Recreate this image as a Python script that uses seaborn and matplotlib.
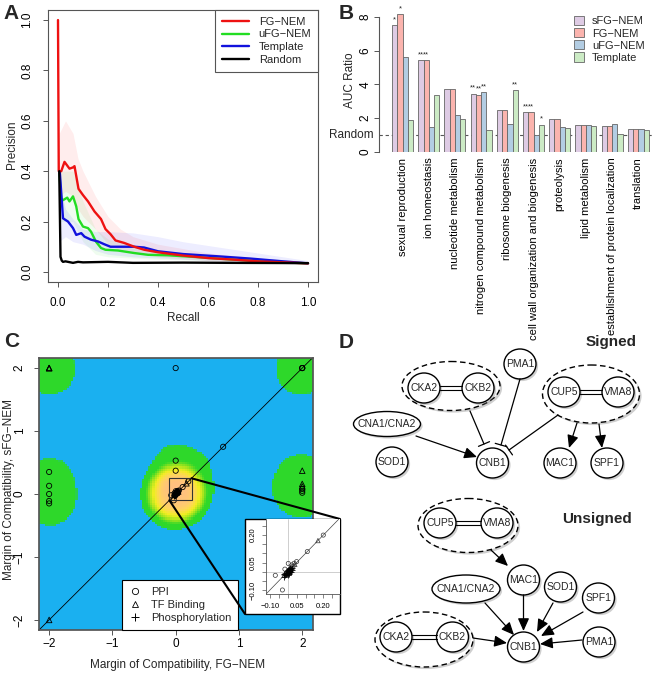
import numpy as np
import pandas as pd
import matplotlib
matplotlib.use('Agg')
import matplotlib.pyplot as plt
import seaborn as sns
from matplotlib.patches import Ellipse, Rectangle, FancyArrowPatch, Patch, ConnectionPatch
from matplotlib.lines import Line2D
from matplotlib.colors import LinearSegmentedColormap, Normalize
from matplotlib import patheffects as pe
import matplotlib.transforms as mtrans

# ---------------- data ----------------
# A: precision / recall curves
fg_x = [0.0, 0.003, 0.013, 0.026, 0.046, 0.06, 0.066, 0.082, 0.1, 0.12, 0.146, 0.172, 0.19, 0.21,
        0.23, 0.265, 0.305, 0.345, 0.40, 0.50, 0.60, 0.70, 0.80, 0.90, 1.0]
fg_y = [1.0, 0.40, 0.40, 0.437, 0.41, 0.415, 0.42, 0.33, 0.305, 0.28, 0.24, 0.21, 0.17, 0.15,
        0.125, 0.115, 0.10, 0.088, 0.078, 0.065, 0.055, 0.049, 0.042, 0.038, 0.034]
ufg_x = [0.005, 0.013, 0.02, 0.037, 0.046, 0.06, 0.073, 0.082, 0.1, 0.12, 0.132, 0.152, 0.172,
         0.19, 0.24, 0.305, 0.36, 0.44, 0.57, 0.70, 0.83, 1.0]
ufg_y = [0.40, 0.29, 0.285, 0.295, 0.28, 0.30, 0.26, 0.21, 0.18, 0.174, 0.16, 0.12, 0.095,
         0.088, 0.085, 0.075, 0.068, 0.066, 0.058, 0.049, 0.042, 0.034]
tpl_x = [0.007, 0.02, 0.04, 0.06, 0.073, 0.093, 0.106, 0.132, 0.16, 0.185, 0.21, 0.265, 0.305,
         0.344, 0.40, 0.50, 0.64, 0.77, 0.90, 1.0]
tpl_y = [0.40, 0.213, 0.20, 0.174, 0.147, 0.154, 0.14, 0.128, 0.121, 0.11, 0.10, 0.10, 0.10,
         0.097, 0.082, 0.071, 0.062, 0.053, 0.042, 0.034]
rnd_x = [0.005, 0.01, 0.015, 0.02, 0.03, 0.05, 0.06, 0.08, 0.1, 0.2, 0.3, 0.5, 0.7, 1.0]
rnd_y = [0.40, 0.06, 0.045, 0.04, 0.042, 0.038, 0.036, 0.040, 0.038, 0.040, 0.036, 0.037, 0.036, 0.035]

fg_band_x = [0.005, 0.03, 0.06, 0.08, 0.1, 0.15, 0.2, 0.25, 0.3, 0.4, 0.6, 0.8, 1.0]
fg_band_hi = [0.55, 0.60, 0.55, 0.45, 0.40, 0.30, 0.22, 0.17, 0.14, 0.11, 0.075, 0.055, 0.042]
fg_band_lo = [0.30, 0.32, 0.30, 0.25, 0.22, 0.17, 0.11, 0.085, 0.075, 0.06, 0.045, 0.036, 0.03]
ufg_band_x = [0.005, 0.03, 0.06, 0.1, 0.15, 0.2, 0.3, 0.4, 0.6, 1.0]
ufg_band_hi = [0.40, 0.40, 0.40, 0.28, 0.17, 0.13, 0.10, 0.085, 0.07, 0.04]
ufg_band_lo = [0.20, 0.20, 0.20, 0.12, 0.07, 0.06, 0.055, 0.05, 0.045, 0.03]
tpl_band_x = [0.005, 0.03, 0.06, 0.1, 0.15, 0.2, 0.3, 0.4, 0.5, 0.7, 1.0]
tpl_band_hi = [0.35, 0.25, 0.21, 0.17, 0.16, 0.16, 0.155, 0.14, 0.12, 0.09, 0.045]
tpl_band_lo = [0.12, 0.14, 0.12, 0.11, 0.085, 0.07, 0.06, 0.055, 0.05, 0.04, 0.03]

# B: AUC ratio per GO term
terms = ["sexual reproduction", "ion homeostasis", "nucleotide metabolism",
         "nitrogen compound metabolism", "ribosome biogenesis",
         "cell wall organization and biogenesis", "proteolysis", "lipid metabolism",
         "establishment of protein localization", "translation"]
methods_b = ["sFG−NEM", "FG−NEM", "uFG−NEM", "Template"]
auc_sfg = [7.5, 5.43, 3.75, 3.46, 2.47, 2.37, 1.94, 1.62, 1.56, 1.38]
auc_fg = [8.16, 5.43, 3.75, 3.40, 2.47, 2.37, 1.94, 1.62, 1.56, 1.38]
auc_ufg = [5.63, 1.48, 2.21, 3.54, 1.68, 1.03, 1.46, 1.58, 1.68, 1.38]
auc_tpl = [1.92, 3.36, 1.94, 1.32, 3.66, 1.62, 1.42, 1.52, 1.09, 1.32]
star_sfg = ["*", "**", "", "**", "", "**", "", "", "", ""]
star_fg = ["*", "**", "", "**", "", "**", "", "", "", ""]
star_ufg = ["", "", "", "**", "", "", "", "", "", ""]
star_tpl = ["", "", "", "", "**", "*", "", "", "", ""]

# C: margin of compatibility, FG-NEM (x) vs sFG-NEM (y)
ppi_x = [0.0, 2.0, 2.0, 2.0, 0.75, 0.0, 0.0, -2.0, -2.0, -2.0, -2.0, -2.0, 2.0, 2.0, 2.0,
         -0.07, -0.03, 0.003, -0.016, 0.023, 0.036, 0.05, 0.11, 0.20, -0.02, 0.0, 0.01, 0.02,
         0.03, -0.01, 0.015]
ppi_y = [2.0, 2.0, 2.0, 2.0, 0.75, 0.53, 0.37, 0.35, 0.13, 0.0, -0.11, -0.15, 0.08, 0.05, 0.02,
         -0.02, -0.10, 0.045, 0.014, 0.037, 0.046, 0.055, 0.11, 0.20, -0.02, 0.0, 0.01, 0.02,
         0.03, -0.015, 0.0]
tf_x = [-2.0, -2.0, -2.0, -2.0, 2.0, 2.0, 2.0, 0.17, 0.04]
tf_y = [2.0, 2.0, 2.0, -2.0, 0.37, 0.16, 0.12, 0.17, 0.04]
ph_x = [-0.02, -0.015, -0.01, -0.005, 0.0, 0.005, 0.01, 0.015, 0.02, 0.025, -0.012, 0.0, 0.008,
        0.018, -0.02, 0.005, 0.012, -0.005, 0.022, 0.0]
ph_y = [-0.03, -0.02, -0.015, -0.01, -0.005, 0.0, 0.005, 0.01, 0.015, 0.02, -0.005, 0.01, -0.012,
        0.0, -0.01, 0.015, 0.02, 0.005, 0.008, -0.02]

# D: network layouts (pixel positions in the panel)
signed_nodes = [("PMA1", 520, 364), ("CKA2", 424, 388), ("CKB2", 478, 388), ("CUP5", 564, 392),
                ("VMA8", 618, 392), ("SOD1", 392, 462), ("CNB1", 492.5, 463), ("MAC1", 560, 463),
                ("SPF1", 607, 463)]
signed_ovals = [("CNA1/CNA2", 387, 424, 67, 25)]
signed_groups = [(451, 386, 98, 49), (591, 394, 97, 58)]
signed_pairs = [(424, 478, 388), (564, 618, 392)]
signed_edges = [(416, 436, 477, 457, "arrow"), (470, 411, 484, 444, "tee"),
                (520, 379, 501, 445, "tee"), (558, 415, 509, 450, "tee"),
                (577, 423, 569, 448, "arrow"), (599, 424, 602, 448, "arrow")]
unsigned_nodes = [("CUP5", 440, 523), ("VMA8", 497, 523), ("MAC1", 523.5, 580), ("SOD1", 560.5, 587),
                  ("SPF1", 598.5, 598), ("CKA2", 396, 637), ("CKB2", 452.5, 637), ("CNB1", 523.5, 647),
                  ("PMA1", 599, 642)]
unsigned_ovals = [("CNA1/CNA2", 466, 589, 68, 28)]
unsigned_groups = [(468, 525.5, 100, 54), (424, 639.5, 98, 55)]
unsigned_pairs = [(440, 497, 523), (396, 452.5, 637)]
unsigned_edges = [(491, 550, 508, 566, "arrow"), (523.5, 595, 523.5, 631, "arrow"),
                  (553, 603, 537, 632, "arrow"), (583, 612, 541, 636, "arrow"),
                  (485, 603, 514, 635, "arrow"), (473, 638, 507, 643, "arrow"),
                  (582, 640, 540, 644, "arrow")]

# ---------------- style ----------------
sns.set_theme(style="ticks")
plt.rcParams['font.family'] = ['Liberation Sans', 'DejaVu Sans']
plt.rcParams['axes.unicode_minus'] = True
plt.rcParams['axes.edgecolor'] = '#555555'
plt.rcParams['xtick.color'] = '#555555'
plt.rcParams['ytick.color'] = '#555555'
plt.rcParams['xtick.labelcolor'] = 'black'
plt.rcParams['ytick.labelcolor'] = 'black'

W, H = 656, 688
fig = plt.figure(figsize=(W / 100, H / 100), dpi=100)
fig.patch.set_facecolor('white')


def box(l, t, r, b):
    return [l / W, 1 - b / H, (r - l) / W, (b - t) / H]


def rot_y(ax):
    for lab in ax.get_yticklabels():
        lab.set_rotation(90)
        lab.set_va('center')


# ---------------- A ----------------
axA = fig.add_axes(box(48, 10, 318, 282))
for bx, lo, hi, c in [(fg_band_x, fg_band_lo, fg_band_hi, 'red'),
                      (ufg_band_x, ufg_band_lo, ufg_band_hi, '#22dd22'),
                      (tpl_band_x, tpl_band_lo, tpl_band_hi, 'blue')]:
    axA.fill_between(bx, lo, hi, color=c, alpha=0.07, lw=0)

pr = pd.concat([
    pd.DataFrame({'recall': ufg_x, 'precision': ufg_y, 'method': 'uFG−NEM'}),
    pd.DataFrame({'recall': tpl_x, 'precision': tpl_y, 'method': 'Template'}),
    pd.DataFrame({'recall': fg_x, 'precision': fg_y, 'method': 'FG−NEM'}),
    pd.DataFrame({'recall': rnd_x, 'precision': rnd_y, 'method': 'Random'}),
], ignore_index=True)
pr_colors = {'FG−NEM': '#ee1111', 'uFG−NEM': '#22dd22', 'Template': '#1111dd', 'Random': 'black'}
sns.lineplot(data=pr, x='recall', y='precision', hue='method', palette=pr_colors,
             hue_order=['uFG−NEM', 'Template', 'FG−NEM', 'Random'], estimator=None, sort=False,
             lw=1.7, legend=False, ax=axA)
axA.set_xlim(-0.04, 1.04)
axA.set_ylim(-0.04, 1.04)
axA.set_xticks(np.arange(0, 1.01, 0.2))
axA.set_yticks(np.arange(0, 1.01, 0.2))
axA.tick_params(labelsize=8.5, length=3.5, width=0.7, pad=7)
rot_y(axA)
axA.set_xlabel('Recall', fontsize=8.5)
axA.set_ylabel('Precision', fontsize=8.5)
axA.xaxis.set_label_coords(0.5, -0.132)
axA.xaxis.label.set_va('center')
axA.yaxis.set_label_coords(-0.133, 0.504)
axA.yaxis.label.set_va('center')
for s in axA.spines.values():
    s.set_linewidth(0.8)
legA = axA.legend([Line2D([], [], color=pr_colors[k], lw=1.7) for k in ['FG−NEM', 'uFG−NEM', 'Template', 'Random']],
                  ['FG−NEM', 'uFG−NEM', 'Template', 'Random'], loc='upper right', borderaxespad=0,
                  fancybox=False, framealpha=1, edgecolor='#555555', fontsize=8, handlelength=2.4,
                  labelspacing=0.25, borderpad=0.6, handletextpad=0.9)
legA.get_frame().set_linewidth(0.8)

# ---------------- B ----------------
axB = fig.add_axes(box(379, 10, 654, 152))
auc = pd.DataFrame({
    'term': terms * 4,
    'method': sum([[m] * len(terms) for m in methods_b], []),
    'ratio': auc_sfg + auc_fg + auc_ufg + auc_tpl,
})
bar_colors = {'sFG−NEM': '#DECBE4', 'FG−NEM': '#FBB4AE', 'uFG−NEM': '#B3CDE3', 'Template': '#CCEBC5'}
sns.barplot(data=auc, x='term', y='ratio', hue='method', hue_order=methods_b, palette=bar_colors,
            width=0.8, saturation=1, edgecolor='#666666', linewidth=0.6, legend=False, ax=axB)
for cont, stars in zip(axB.containers, [star_sfg, star_fg, star_ufg, star_tpl]):
    for bar, st in zip(cont, stars):
        if st:
            axB.text(bar.get_x() + bar.get_width() / 2, bar.get_height() + 0.12, st,
                     ha='center', va='bottom', fontsize=5.5)
axB.axhline(1, color='#555555', lw=0.8, ls=(0, (3, 2.5)), zorder=0.5)
axB.set_xlim(-0.9, 9.6)
axB.set_ylim(0, 8.41)
axB.set_yticks([0, 2, 4, 6, 8])
axB.spines['top'].set_visible(False)
axB.spines['right'].set_visible(False)
axB.spines['bottom'].set_visible(False)
axB.spines['left'].set_bounds(0, 8)
axB.spines['left'].set_linewidth(0.8)
axB.tick_params(axis='y', labelsize=8.5, length=3.5, width=0.7, pad=2)
axB.tick_params(axis='x', labelsize=8, length=0, pad=4, rotation=90)
for lab in axB.get_xticklabels():
    lab.set_va('top')
    lab.set_ha('center')
rot_y(axB)
axB.set_xlabel('')
axB.set_ylabel('AUC Ratio', fontsize=8.5)
axB.yaxis.set_label_coords(-0.105, 0.507)
axB.yaxis.label.set_va('center')
axB.text(-0.02, 1, 'Random', transform=mtrans.blended_transform_factory(axB.transAxes, axB.transData),
         ha='right', va='center', fontsize=8.5)
axB.legend([Patch(fc=bar_colors[m], ec='#666666', lw=0.6) for m in methods_b], methods_b,
           loc='upper left', bbox_to_anchor=(574 / W, 1 - 16 / H), bbox_transform=fig.transFigure,
           frameon=False, fontsize=8, handlelength=0.9, handleheight=0.9, handletextpad=0.7,
           labelspacing=0.15, borderpad=0, borderaxespad=0)

# ---------------- C ----------------
axC = fig.add_axes(box(39, 358, 313, 630))
xlim_c = (-2.16, 2.17)
ylim_c = (-2.16, 2.16)
all_x = np.array(ppi_x + tf_x + ph_x)
all_y = np.array(ppi_y + tf_y + ph_y)
gx = np.linspace(xlim_c[0], xlim_c[1], 128)
gy = np.linspace(ylim_c[0], ylim_c[1], 128)
GX, GY = np.meshgrid(gx, gy)
rr = np.sqrt((GX[..., None] - all_x) ** 2 + (GY[..., None] - all_y) ** 2)
dens = np.exp(-(rr / 0.42) ** 4).sum(axis=-1)
dmax = dens.max()
stops = [(0.0, '#1AB0F0'), (1.08, '#1AB0F0'), (1.25, '#2ED82A'), (0.15 * dmax, '#2ED82A'),
         (0.33 * dmax, '#9EE41E'), (0.55 * dmax, '#F2EE22'), (0.78 * dmax, '#FFD65C'), (dmax, '#FFC080')]
cmap_c = LinearSegmentedColormap.from_list('moc', [(v / dmax, c) for v, c in stops])
axC.imshow(dens, origin='lower', extent=[xlim_c[0], xlim_c[1], ylim_c[0], ylim_c[1]],
           cmap=cmap_c, norm=Normalize(0, dmax), interpolation='nearest', aspect='auto', zorder=0)
axC.axline((0, 0), slope=1, color='black', lw=0.6, zorder=1)
axC.scatter(ppi_x, ppi_y, marker='o', s=14, facecolors='none', edgecolors='black', linewidths=0.6, zorder=2)
axC.scatter(tf_x, tf_y, marker='^', s=16, facecolors='none', edgecolors='black', linewidths=0.6, zorder=2)
axC.scatter(ph_x, ph_y, marker='+', s=18, color='black', linewidths=0.7, zorder=2)
axC.add_patch(Rectangle((-0.1, -0.1), 0.35, 0.35, fill=False, ec='#333333', lw=0.8, zorder=3))
axC.set_xlim(*xlim_c)
axC.set_ylim(*ylim_c)
axC.set_xticks([-2, -1, 0, 1, 2])
axC.set_yticks([-2, -1, 0, 1, 2])
axC.tick_params(axis='x', labelsize=8.5, length=3.5, width=0.7, pad=2)
axC.tick_params(axis='y', labelsize=8.5, length=3.5, width=0.7, pad=6)
rot_y(axC)
axC.set_xlabel('Margin of Compatibility, FG−NEM', fontsize=8.5)
axC.set_ylabel('Margin of Compatibility, sFG−NEM', fontsize=8.5)
axC.xaxis.set_label_coords(0.504, -0.129)
axC.xaxis.label.set_va('center')
axC.yaxis.set_label_coords(-0.109, 0.515)
axC.yaxis.label.set_va('center')
legC = axC.legend([Line2D([], [], marker='o', ls='', mfc='none', mec='black', ms=4.5, mew=0.6),
                   Line2D([], [], marker='^', ls='', mfc='none', mec='black', ms=5, mew=0.6),
                   Line2D([], [], marker='+', ls='', color='black', ms=6, mew=0.7)],
                  ['PPI', 'TF Binding', 'Phosphorylation'], loc='lower left',
                  bbox_to_anchor=(122 / W, 1 - 630 / H), bbox_transform=fig.transFigure,
                  fancybox=False, framealpha=1, edgecolor='black', fontsize=8, handlelength=1.2,
                  handletextpad=0.8, labelspacing=0.3, borderpad=0.6, borderaxespad=0)
legC.get_frame().set_linewidth(0.8)

# inset
fig.add_artist(Rectangle((245 / W, 1 - 614 / H), 95 / W, 95 / H, transform=fig.transFigure,
                         fc='white', ec='black', lw=1, zorder=3))
axI = fig.add_axes(box(265.7, 519, 340, 594))
axI.set_zorder(4)
axI.axhline(0, color='#bbbbbb', lw=0.5, zorder=0)
axI.axvline(0, color='#bbbbbb', lw=0.5, zorder=0)
axI.axline((0, 0), slope=1, color='#444444', lw=0.5, zorder=1)
axI.scatter(ppi_x, ppi_y, marker='o', s=9, facecolors='none', edgecolors='#333333', linewidths=0.5, zorder=2)
axI.scatter(tf_x, tf_y, marker='^', s=10, facecolors='none', edgecolors='#333333', linewidths=0.5, zorder=2)
axI.scatter(ph_x, ph_y, marker='+', s=14, color='black', linewidths=0.6, zorder=2)
axI.set_xlim(-0.124, 0.294)
axI.set_ylim(-0.122, 0.288)
axI.set_xticks([-0.10, 0.05, 0.20])
axI.set_yticks([-0.10, 0.05, 0.20])
axI.set_xticklabels(['−0.10', '0.05', '0.20'])
axI.set_yticklabels(['−0.10', '0.05', '0.20'])
axI.xaxis.set_minor_locator(matplotlib.ticker.FixedLocator(np.arange(-0.1, 0.26, 0.05)))
axI.yaxis.set_minor_locator(matplotlib.ticker.FixedLocator(np.arange(-0.1, 0.26, 0.05)))
axI.tick_params(which='both', labelsize=5.5, length=3, width=0.5, pad=3.5)
axI.tick_params(which='minor', length=3)
rot_y(axI)
axI.spines['top'].set_visible(False)
axI.spines['right'].set_visible(False)
for s in ['left', 'bottom']:
    axI.spines[s].set_linewidth(0.6)
for xa, xb in [((0.25, 0.25), (340 / W, 1 - 519 / H)), ((-0.1, -0.1), (245 / W, 1 - 614 / H))]:
    con = ConnectionPatch(xyA=xa, coordsA='data', axesA=axC, xyB=xb, coordsB='figure fraction',
                          color='black', lw=1.5, zorder=3.5)
    fig.add_artist(con)

# ---------------- D ----------------
axD = fig.add_axes([330 / W, 0, 326 / W, 368 / H])
axD.set_xlim(330, 656)
axD.set_ylim(688, 320)
axD.axis('off')
shadow = [pe.SimplePatchShadow(offset=(1.5, -1.5), shadow_rgbFace='#777777', alpha=0.35), pe.Normal()]


def draw_network(nodes, ovals, groups, pairs, edges):
    for gx_, gy_, gw, gh in groups:
        e = Ellipse((gx_, gy_), gw, gh, fc='white', ec='black', lw=1, ls=(0, (4, 2.5)), zorder=2)
        e.set_path_effects(shadow)
        axD.add_patch(e)
    for name, nx, ny in nodes:
        e = Ellipse((nx, ny), 32, 30, fc='white', ec='black', lw=1, zorder=3)
        e.set_path_effects(shadow)
        axD.add_patch(e)
        axD.text(nx, ny, name, ha='center', va='center', fontsize=7.5, zorder=5)
    for name, nx, ny, nw, nh in ovals:
        e = Ellipse((nx, ny), nw, nh, fc='white', ec='black', lw=1, zorder=3)
        e.set_path_effects(shadow)
        axD.add_patch(e)
        axD.text(nx, ny, name, ha='center', va='center', fontsize=7.5, zorder=5)
    for xa, xb, py in pairs:
        for off in (-1.6, 1.6):
            axD.plot([xa + 16, xb - 16], [py + off, py + off], color='black', lw=0.8, zorder=4)
    for x1, y1, x2, y2, kind in edges:
        if kind == 'arrow':
            axD.add_patch(FancyArrowPatch((x1, y1), (x2, y2),
                                          arrowstyle='-|>,head_length=0.85,head_width=0.38',
                                          mutation_scale=9, lw=0.9, color='black',
                                          shrinkA=0, shrinkB=0, zorder=4))
        else:
            axD.plot([x1, x2], [y1, y2], color='black', lw=0.9, zorder=4)
            dx, dy = x2 - x1, y2 - y1
            n = np.hypot(dx, dy)
            px, py = -dy / n * 6, dx / n * 6
            axD.plot([x2 - px, x2 + px], [y2 - py, y2 + py], color='black', lw=0.9, zorder=4)


draw_network(signed_nodes, signed_ovals, signed_groups, signed_pairs, signed_edges)
draw_network(unsigned_nodes, unsigned_ovals, unsigned_groups, unsigned_pairs, unsigned_edges)
axD.text(611, 342, 'Signed', ha='center', va='center', fontsize=11, fontweight='bold')
axD.text(597, 519, 'Unsigned', ha='center', va='center', fontsize=11, fontweight='bold')

# panel letters
for letter, px, py in [('A', 3, 4), ('B', 339, 4), ('C', 4, 332), ('D', 339, 333)]:
    fig.text(px / W, 1 - py / H, letter, ha='left', va='top', fontsize=15, fontweight='bold')

fig.savefig('out.png', dpi=100, facecolor='white')
